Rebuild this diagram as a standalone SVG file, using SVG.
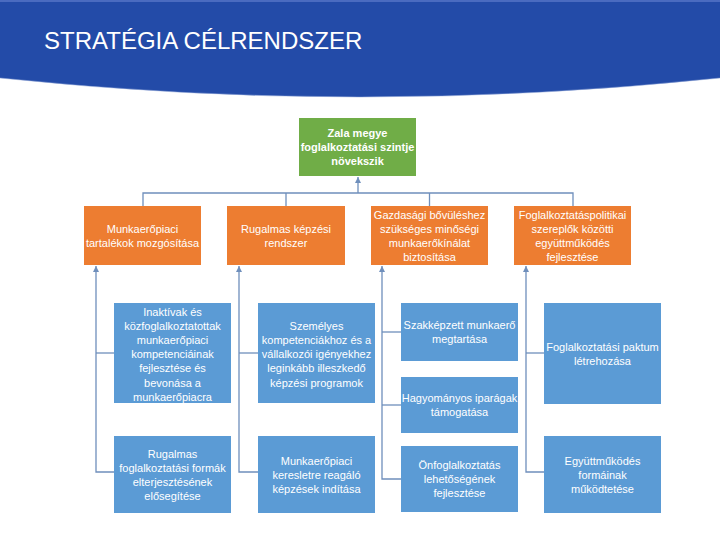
<svg xmlns="http://www.w3.org/2000/svg" width="720" height="540" viewBox="0 0 720 540">
<style>
.t{font-family:"Liberation Sans",Arial,sans-serif;font-size:11px;fill:#ffffff;text-anchor:middle}
.b{font-weight:bold}
.g{fill:#70AD47}
.o{fill:#ED7D31}
.bl{fill:#5B9BD5}
.c{fill:none;stroke:#6F8FBC;stroke-width:1.3}
.title{font-family:"Liberation Sans",Arial,sans-serif;font-size:24px;fill:#ffffff}
</style>
<defs>
<marker id="ar" markerWidth="6" markerHeight="6" refX="6" refY="3" orient="auto" markerUnits="userSpaceOnUse">
<path d="M0,0 L6,3 L0,6 Z" fill="#6F8FBC"/>
</marker>
</defs>
<rect width="720" height="540" fill="#ffffff"/>
<g id="header">
<path d="M0,0 H720 V78 Q360,116 0,78 Z" fill="#234BA8"/>
<path d="M0,78 Q360,116 720,78" fill="none" stroke="#8FA6D8" stroke-width="1" opacity="0.5"/>
<rect x="0" y="0" width="720" height="2" fill="#4A6BC0"/>
<text class="title" x="44" y="49">STRATÉGIA CÉLRENDSZER</text>
</g>
<g id="connectors">
<path class="c" d="M143,206 V193 H573 V206"/>
<path class="c" d="M286,193 V206"/>
<path class="c" d="M429.5,193 V206"/>
<path class="c" d="M358,193 V177" marker-end="url(#ar)"/>
<path class="c" d="M114,472 H96 V266" marker-end="url(#ar)"/>
<path class="c" d="M96,353 H114"/>
<path class="c" d="M258,472 H239 V266" marker-end="url(#ar)"/>
<path class="c" d="M239,353 H258"/>
<path class="c" d="M401,479 H382 V266" marker-end="url(#ar)"/>
<path class="c" d="M382,332 H401"/>
<path class="c" d="M382,405 H401"/>
<path class="c" d="M544,472 H526 V266" marker-end="url(#ar)"/>
<path class="c" d="M526,353 H544"/>
</g>
<g id="goal">
<rect class="g" x="299" y="118" width="117" height="58"/>
<text class="t b" x="357.5" y="137">Zala megye</text>
<text class="t b" x="357.5" y="151">foglalkoztatási szintje</text>
<text class="t b" x="357.5" y="165">növekszik</text>
</g>
<g id="o1">
<rect class="o" x="84" y="206" width="117" height="59"/>
<text class="t" x="142.5" y="233">Munkaerőpiaci</text>
<text class="t" x="142.5" y="247">tartalékok mozgósítása</text>
</g>
<g id="o2">
<rect class="o" x="227" y="206" width="118" height="59"/>
<text class="t" x="286" y="233">Rugalmas képzési</text>
<text class="t" x="286" y="247">rendszer</text>
</g>
<g id="o3">
<rect class="o" x="371" y="206" width="117" height="59"/>
<text class="t" x="429.5" y="219">Gazdasági bővüléshez</text>
<text class="t" x="429.5" y="233">szükséges minőségi</text>
<text class="t" x="429.5" y="247">munkaerőkínálat</text>
<text class="t" x="429.5" y="261">biztosítása</text>
</g>
<g id="o4">
<rect class="o" x="514" y="206" width="117" height="59"/>
<text class="t" x="572.5" y="219">Foglalkoztatáspolitikai</text>
<text class="t" x="572.5" y="233">szereplők közötti</text>
<text class="t" x="572.5" y="247">együttműködés</text>
<text class="t" x="572.5" y="261">fejlesztése</text>
</g>
<g id="b1a">
<rect class="bl" x="114" y="303" width="117" height="100"/>
<text class="t" x="172.5" y="315.5">Inaktívak és</text>
<text class="t" x="172.5" y="329.7">közfoglalkoztatottak</text>
<text class="t" x="172.5" y="343.9">munkaerőpiaci</text>
<text class="t" x="172.5" y="358.1">kompetenciáinak</text>
<text class="t" x="172.5" y="372.3">fejlesztése és</text>
<text class="t" x="172.5" y="386.5">bevonása a</text>
<text class="t" x="172.5" y="400.7">munkaerőpiacra</text>
</g>
<g id="b1b">
<rect class="bl" x="114" y="436" width="117" height="77"/>
<text class="t" x="172.5" y="457.5">Rugalmas</text>
<text class="t" x="172.5" y="471.5">foglalkoztatási formák</text>
<text class="t" x="172.5" y="485.5">elterjesztésének</text>
<text class="t" x="172.5" y="499.5">elősegítése</text>
</g>
<g id="b2a">
<rect class="bl" x="258" y="303" width="117" height="100"/>
<text class="t" x="316.5" y="329.7">Személyes</text>
<text class="t" x="316.5" y="343.9">kompetenciákhoz és a</text>
<text class="t" x="316.5" y="358.1">vállalkozói igényekhez</text>
<text class="t" x="316.5" y="372.3">leginkább illeszkedő</text>
<text class="t" x="316.5" y="386.5">képzési programok</text>
</g>
<g id="b2b">
<rect class="bl" x="258" y="436" width="117" height="77"/>
<text class="t" x="316.5" y="464.5">Munkaerőpiaci</text>
<text class="t" x="316.5" y="478.5">keresletre reagáló</text>
<text class="t" x="316.5" y="492.5">képzések indítása</text>
</g>
<g id="b3a">
<rect class="bl" x="401" y="303" width="117" height="58"/>
<text class="t" x="459.5" y="329">Szakképzett munkaerő</text>
<text class="t" x="459.5" y="343">megtartása</text>
</g>
<g id="b3b">
<rect class="bl" x="401" y="377" width="117" height="56"/>
<text class="t" x="459.5" y="402">Hagyományos iparágak</text>
<text class="t" x="459.5" y="416">támogatása</text>
</g>
<g id="b3c">
<rect class="bl" x="401" y="446" width="117" height="66"/>
<text class="t" x="459.5" y="469">Önfoglalkoztatás</text>
<text class="t" x="459.5" y="483">lehetőségének</text>
<text class="t" x="459.5" y="497">fejlesztése</text>
</g>
<g id="b4a">
<rect class="bl" x="544" y="303" width="117" height="101"/>
<text class="t" x="602.5" y="351">Foglalkoztatási paktum</text>
<text class="t" x="602.5" y="365">létrehozása</text>
</g>
<g id="b4b">
<rect class="bl" x="544" y="436" width="117" height="77"/>
<text class="t" x="602.5" y="464.5">Együttműködés</text>
<text class="t" x="602.5" y="478.5">formáinak</text>
<text class="t" x="602.5" y="492.5">működtetése</text>
</g>
</svg>
